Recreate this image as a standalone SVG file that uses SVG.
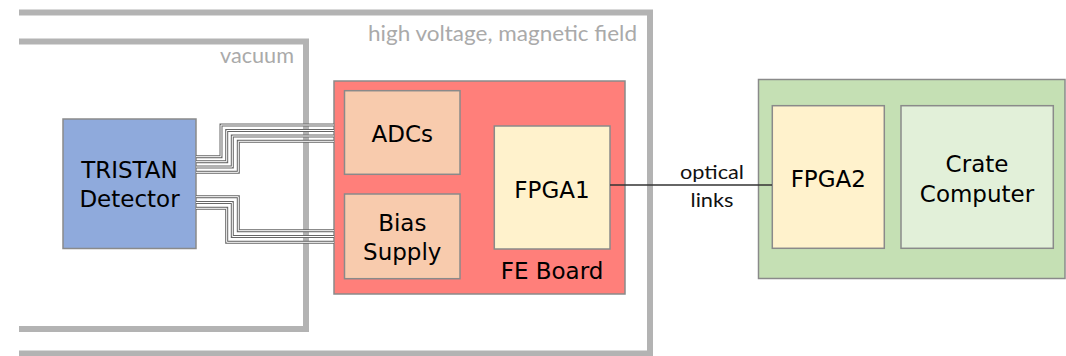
<svg xmlns="http://www.w3.org/2000/svg" width="1066" height="356" viewBox="0 0 1066 356">
<style>
.frame{fill:none;stroke:#b3b3b3;stroke-width:6}
.box{stroke:#8a8a8a;stroke-width:1.5}
.t{font-family:"DejaVu Sans",Verdana,sans-serif;font-size:23px;fill:#000;text-anchor:middle}
.lbl{font-family:Lato,"Open Sans",sans-serif;font-size:21px;fill:#aaaaaa}
.lk{font-family:Lato,"Open Sans",sans-serif;font-size:19px;fill:#111;text-anchor:middle}
.wo{fill:none;stroke:#666;stroke-width:3}
.wi{fill:none;stroke:#fff;stroke-width:1}
</style>
<rect width="1066" height="356" fill="#fff"/>
<g id="frames">
<path class="frame" d="M19,12.5 H650 V356"/>
<path class="frame" d="M19,353.5 H650"/>
<path class="frame" d="M19,41.5 H306 V329 H19"/>
<text class="lbl" x="637" y="40.5" text-anchor="end" textLength="269" lengthAdjust="spacingAndGlyphs">high voltage, magnetic field</text>
<text class="lbl" x="294" y="62.5" text-anchor="end" textLength="74" lengthAdjust="spacingAndGlyphs">vacuum</text>
</g>
<g id="tristan">
<rect class="box" x="63" y="119" width="133" height="129.5" fill="#8faadc"/>
<text class="t" x="129.5" y="178.3">TRISTAN</text>
<text class="t" x="129.5" y="207.3">Detector</text>
</g>
<g id="feboard">
<rect class="box" x="334" y="81" width="291" height="213" fill="#ff7f7a"/>
<text class="t" x="552" y="279">FE Board</text>
</g>
<g id="adcs">
<rect class="box" x="344.5" y="90.7" width="115.5" height="83.6" fill="#f8cbad"/>
<text class="t" x="402.3" y="141.7">ADCs</text>
</g>
<g id="bias">
<rect class="box" x="344.5" y="194" width="115.5" height="84.7" fill="#f8cbad"/>
<text class="t" x="402.3" y="231">Bias</text>
<text class="t" x="402.3" y="260">Supply</text>
</g>
<g id="fpga1">
<rect class="box" x="494.3" y="126" width="115.7" height="123" fill="#fff2cc"/>
<text class="t" x="552" y="197.7">FPGA1</text>
</g>
<g id="crate">
<rect class="box" x="758.5" y="79.5" width="306.5" height="199" fill="#c5e0b4"/>
</g>
<g id="fpga2">
<rect class="box" x="772.3" y="105.7" width="112" height="142.6" fill="#fff2cc"/>
<text class="t" x="828.3" y="186.7">FPGA2</text>
</g>
<g id="computer">
<rect class="box" x="901" y="105.7" width="152.3" height="142.6" fill="#e2f0d9"/>
<text class="t" x="977" y="171.7">Crate</text>
<text class="t" x="977" y="202">Computer</text>
</g>
<g id="connectors">
<g class="wo">
<path d="M196,156.7 H221 V125 H334"/>
<path d="M196,161.7 H226.7 V130.5 H334"/>
<path d="M196,167 H232.3 V136 H334"/>
<path d="M196,172.3 H238.3 V141.3 H334"/>
<path d="M196,196.7 H238.3 V230.7 H334"/>
<path d="M196,202.5 H232.3 V236.5 H334"/>
<path d="M196,208.3 H226.7 V242.3 H334"/>
</g>
<g class="wi">
<path d="M196,156.7 H221 V125 H334"/>
<path d="M196,161.7 H226.7 V130.5 H334"/>
<path d="M196,167 H232.3 V136 H334"/>
<path d="M196,172.3 H238.3 V141.3 H334"/>
<path d="M196,196.7 H238.3 V230.7 H334"/>
<path d="M196,202.5 H232.3 V236.5 H334"/>
<path d="M196,208.3 H226.7 V242.3 H334"/>
</g>
<line x1="610" y1="185" x2="772" y2="185" stroke="#333" stroke-width="1.3"/>
<text class="lk" x="712" y="179" textLength="64" lengthAdjust="spacingAndGlyphs">optical</text>
<text class="lk" x="712" y="207" textLength="43" lengthAdjust="spacingAndGlyphs">links</text>
</g>
</svg>
